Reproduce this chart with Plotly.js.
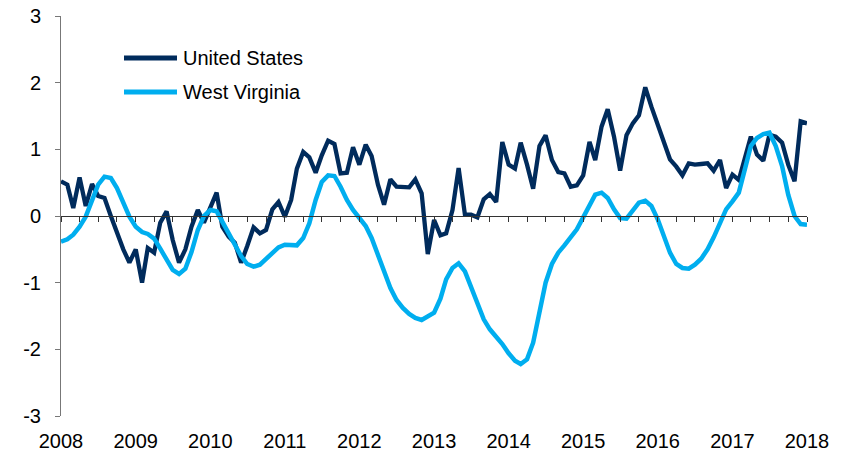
<!DOCTYPE html>
<html><head><meta charset="utf-8">
<script src="https://cdn.plot.ly/plotly-3.0.1.min.js"></script>
<style>html,body{margin:0;padding:0;background:#fff}#chart{width:844px;height:453px}</style>
</head><body><div id="chart"></div>
<script>
// monthly observations, Jan 2008 .. Jan 2018
const startYear = 2008;
const monthCount = 121;
const months = [];
for (let i = 0; i < monthCount; i++) {
  const y = startYear + Math.floor(i / 12);
  const mo = (i % 12) + 1;
  months.push(y + '-' + String(mo).padStart(2, '0') + '-01');
}

const seriesNames = ['United States', 'West Virginia'];

const unitedStates = [
  0.52, 0.47, 0.12, 0.58, 0.15, 0.48, 0.30, 0.27, 0.00, -0.25, -0.50, -0.70,
  -0.50, -1.00, -0.48, -0.55, -0.10, 0.07, -0.36, -0.70, -0.50, -0.16, 0.09, -0.10,
  0.14, 0.35, -0.16, -0.31, -0.40, -0.70, -0.45, -0.17, -0.26, -0.21, 0.10, 0.21,
  -0.01, 0.24, 0.71, 0.96, 0.88, 0.65, 0.91, 1.13, 1.08, 0.64, 0.65, 1.03,
  0.77, 1.07, 0.90, 0.47, 0.17, 0.55, 0.44, 0.43, 0.43, 0.55, 0.34, -0.57,
  -0.06, -0.29, -0.26, 0.09, 0.72, 0.02, 0.02, -0.02, 0.25, 0.33, 0.21, 1.11,
  0.77, 0.71, 1.10, 0.77, 0.41, 1.05, 1.21, 0.84, 0.66, 0.64, 0.44, 0.46,
  0.61, 1.11, 0.84, 1.34, 1.60, 1.19, 0.68, 1.21, 1.39, 1.51, 1.93, 1.64,
  1.37, 1.10, 0.85, 0.74, 0.61, 0.79, 0.77, 0.78, 0.79, 0.68, 0.84, 0.42,
  0.62, 0.54, 0.87, 1.19, 0.92, 0.83, 1.22, 1.19, 1.10, 0.77, 0.52, 1.42,
  1.39
];

const westVirginia = [
  -0.385, -0.35, -0.28, -0.16, -0.01, 0.24, 0.47, 0.59, 0.57, 0.42, 0.20, -0.01,
  -0.16, -0.24, -0.27, -0.34, -0.49, -0.66, -0.81, -0.87, -0.79, -0.54, -0.21, 0.00,
  0.09, 0.07, -0.08, -0.25, -0.42, -0.60, -0.72, -0.76, -0.73, -0.65, -0.56, -0.47,
  -0.43, -0.44, -0.44, -0.33, -0.11, 0.24, 0.51, 0.61, 0.60, 0.44, 0.24, 0.09,
  -0.03, -0.15, -0.33, -0.58, -0.86, -1.08, -1.26, -1.38, -1.47, -1.53, -1.56, -1.51,
  -1.45, -1.24, -0.95, -0.78, -0.71, -0.83, -1.07, -1.33, -1.55, -1.70, -1.80, -1.92,
  -2.06, -2.17, -2.22, -2.15, -1.90, -1.45, -1.00, -0.72, -0.55, -0.44, -0.33, -0.20,
  -0.02, 0.16, 0.32, 0.35, 0.27, 0.10, -0.03, -0.04, 0.07, 0.20, 0.23, 0.15,
  -0.05, -0.30, -0.55, -0.72, -0.78, -0.79, -0.73, -0.64, -0.50, -0.32, -0.10, 0.10,
  0.22, 0.35, 0.68, 1.05, 1.17, 1.23, 1.25, 1.05, 0.75, 0.32, 0.00, -0.12,
  -0.13
];

const yearTicks = ['2008-01-01','2009-01-01','2010-01-01','2011-01-01','2012-01-01','2013-01-01',
                   '2014-01-01','2015-01-01','2016-01-01','2017-01-01','2018-01-01'];
const yearLabels = ['2008','2009','2010','2011','2012','2013','2014','2015','2016','2017','2018'];
const yTicks = [-3, -2, -1, 0, 1, 2, 3];
const yLabels = ['-3', '-2', '-1', '0', '1', '2', '3'];

const navy = '#002B5C';
const sky = '#00AEEF';
const FONT = 'Liberation Sans, Arial, Helvetica, sans-serif';

const traces = [
  {x: months, y: unitedStates, name: seriesNames[0], type: 'scatter', mode: 'lines',
   line: {color: navy, width: 4.3}, hoverinfo: 'skip'},
  {x: months, y: westVirginia, name: seriesNames[1], type: 'scatter', mode: 'lines',
   line: {color: sky, width: 4.5}, hoverinfo: 'skip'},
  // invisible carrier trace so the zero-line axis (x2) is drawn
  {x: months, y: unitedStates, xaxis: 'x2', type: 'scatter', mode: 'lines',
   line: {width: 0, color: 'rgba(0,0,0,0)'}, opacity: 0, showlegend: false, hoverinfo: 'skip'}
];

const legX0 = (124 - 61) / 746, legX1 = (177 - 61) / 746, legTX = (181 - 61) / 746;
const legY = [(416 - 58) / 400, (416 - 92) / 400];
const legColors = [navy, sky];

const shapes = [], annotations = [];
for (let i = 0; i < 2; i++) {
  shapes.push({type: 'line', xref: 'paper', yref: 'paper', x0: legX0, x1: legX1, y0: legY[i], y1: legY[i],
               line: {color: legColors[i], width: 5}});
  annotations.push({xref: 'paper', yref: 'paper', x: legTX, y: legY[i], xanchor: 'left', yanchor: 'middle',
                    text: seriesNames[i], showarrow: false, font: {family: FONT, size: 20, color: '#000'}});
}

const layout = {
  width: 844, height: 453,
  margin: {l: 61, r: 37, t: 16, b: 37},
  paper_bgcolor: '#fff', plot_bgcolor: '#fff',
  showlegend: false,
  font: {family: FONT, size: 20, color: '#000'},
  xaxis: {type: 'date', range: ['2008-01-01', '2018-01-01'], tickvals: yearTicks, ticktext: yearLabels,
          ticks: '', showline: false, showgrid: false, zeroline: false, ticklabelstandoff: 11,
          tickfont: {family: FONT, size: 20, color: '#000'}, fixedrange: true},
  xaxis2: {type: 'date', overlaying: 'x', anchor: 'free', position: 0.5, side: 'bottom',
           range: ['2008-01-01', '2018-01-01'], tick0: '2008-01-01', dtick: 'M3',
           ticks: 'outside', ticklen: 5, tickwidth: 1, tickcolor: '#333',
           showticklabels: false, showline: true, linecolor: '#333', linewidth: 1,
           showgrid: false, zeroline: false, fixedrange: true},
  yaxis: {range: [-3, 3], tickvals: yTicks, ticktext: yLabels, ticks: 'outside', ticklen: 5,
          tickcolor: '#777', showline: true, linecolor: '#777', linewidth: 1,
          showgrid: false, zeroline: false, ticklabelstandoff: 10,
          tickfont: {family: FONT, size: 20, color: '#000'}, fixedrange: true},
  shapes: shapes,
  annotations: annotations
};

Plotly.newPlot('chart', traces, layout, {displayModeBar: false, staticPlot: true});
</script>
</body></html>
